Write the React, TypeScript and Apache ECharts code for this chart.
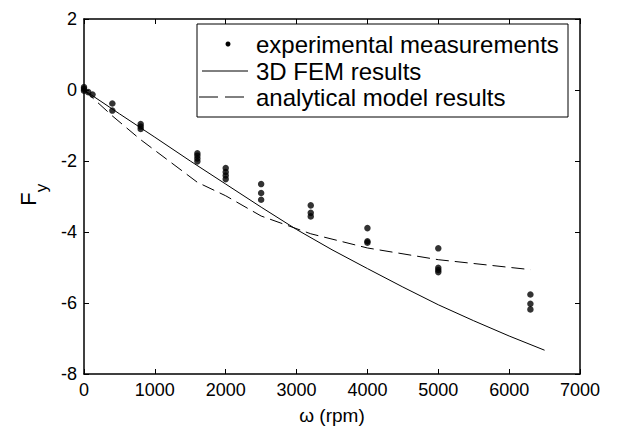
import React, { useEffect, useRef } from "react";
import * as echarts from "echarts";

const expRpm = [0, 0, 0, 60, 120, 400, 400, 800, 800, 800, 1600, 1600, 1600, 1600, 2000, 2000, 2000, 2000, 2500, 2500, 2500, 3200, 3200, 3200, 4000, 4000, 4000, 5000, 5000, 5000, 5000, 6300, 6300, 6300];
const expFy = [0.08, 0.03, -0.02, -0.06, -0.13, -0.38, -0.58, -0.96, -1.03, -1.1, -1.78, -1.85, -1.93, -2.01, -2.2, -2.31, -2.41, -2.51, -2.65, -2.9, -3.09, -3.25, -3.46, -3.56, -3.89, -4.26, -4.3, -4.46, -5.01, -5.07, -5.13, -5.76, -6.02, -6.18];

const femRpm = [0, 500, 1000, 1500, 2000, 2500, 3000, 3500, 4000, 4500, 5000, 5500, 6000, 6500];
const femFy = [0, -0.67, -1.33, -2.0, -2.65, -3.3, -3.93, -4.5, -5.03, -5.55, -6.05, -6.5, -6.93, -7.33];

const anaRpm = [0, 400, 800, 1600, 2000, 2500, 3200, 4000, 5000, 6300];
const anaFy = [0, -0.73, -1.4, -2.6, -2.98, -3.55, -4.05, -4.45, -4.78, -5.06];

const xTicks = { min: 0, max: 7000, interval: 1000 };
const yTicks = { min: -8, max: 2, interval: 2 };

const legendLabels = ["experimental measurements", "3D FEM results", "analytical model results"];

const FONT = "Liberation Sans, Arial, sans-serif";

export default function App() {
  const ref = useRef<HTMLDivElement>(null);
  useEffect(() => {
    if (!ref.current) return;
    const chart = echarts.init(ref.current, undefined, { renderer: "svg" });
    const zip = (a: number[], b: number[]) => a.map((v, i) => [v, b[i]]);
    const axisCommon = {
      axisLine: { show: true, onZero: false, lineStyle: { color: "#000", width: 1.5 } },
      axisTick: { show: true, inside: true, length: 5, lineStyle: { color: "#000", width: 1 } },
      splitLine: { show: false },
    };
    const fmt = (v: number) => String(v);
    chart.setOption({
      animation: false,
      backgroundColor: "#fff",
      grid: { left: 84, right: 39, top: 19, bottom: 54, show: false },
      xAxis: [
        {
          type: "value",
          ...xTicks,
          ...axisCommon,
          position: "bottom",
          axisLabel: { color: "#000", fontSize: 18, fontFamily: FONT, margin: 7, formatter: fmt },
          name: "\u03c9 (rpm)",
          nameLocation: "middle",
          nameGap: 32,
          nameTextStyle: { color: "#000", fontSize: 19, fontFamily: FONT },
        },
        {
          type: "value",
          ...xTicks,
          ...axisCommon,
          position: "top",
          axisLabel: { show: false },
        },
      ],
      yAxis: [
        {
          type: "value",
          ...yTicks,
          ...axisCommon,
          position: "left",
          axisLabel: { color: "#000", fontSize: 18, fontFamily: FONT, margin: 7, formatter: fmt },
        },
        {
          type: "value",
          ...yTicks,
          ...axisCommon,
          position: "right",
          axisLabel: { show: false },
        },
      ],
      series: [
        {
          name: legendLabels[0],
          type: "scatter",
          data: zip(expRpm, expFy),
          symbol: "circle",
          symbolSize: 6.5,
          itemStyle: { color: "#000" },
          z: 5,
        },
        {
          name: legendLabels[1],
          type: "line",
          data: zip(femRpm, femFy),
          showSymbol: false,
          lineStyle: { color: "#000", width: 1 },
        },
        {
          name: legendLabels[2],
          type: "line",
          data: zip(anaRpm, anaFy),
          showSymbol: false,
          lineStyle: { color: "#000", width: 1, type: [13, 6] },
        },
      ],
      graphic: [
        {
          type: "group",
          z: 100,
          children: [
            { type: "rect", shape: { x: 197, y: 24, width: 371, height: 93 }, style: { fill: "#fff", stroke: "#000", lineWidth: 1 } },
            { type: "circle", shape: { cx: 228, cy: 44, r: 2.5 }, style: { fill: "#000" } },
            { type: "line", shape: { x1: 202, y1: 71, x2: 248, y2: 71 }, style: { stroke: "#000", lineWidth: 1 } },
            { type: "line", shape: { x1: 199, y1: 97, x2: 248, y2: 97 }, style: { stroke: "#000", lineWidth: 1, lineDash: [19, 7] } },
            { type: "text", x: 256, y: 44, style: { text: legendLabels[0], fill: "#000", font: `24px ${FONT}`, verticalAlign: "middle" } },
            { type: "text", x: 256, y: 71, style: { text: legendLabels[1], fill: "#000", font: `24px ${FONT}`, verticalAlign: "middle" } },
            { type: "text", x: 256, y: 97, style: { text: legendLabels[2], fill: "#000", font: `24px ${FONT}`, verticalAlign: "middle" } },
          ],
        },
        {
          type: "group",
          x: 28,
          y: 199,
          rotation: Math.PI / 2,
          children: [
            { type: "text", x: 0, y: 0, style: { text: "F", fill: "#000", font: `22px ${FONT}`, align: "center", verticalAlign: "middle" } },
            { type: "text", x: 11, y: 13, style: { text: "y", fill: "#000", font: `17px ${FONT}`, align: "center", verticalAlign: "middle" } },
          ],
        },
      ],
    });
    return () => chart.dispose();
  }, []);
  return <div ref={ref} style={{ position: "absolute", left: 0, top: 0, width: 619, height: 430 }} />;
}
